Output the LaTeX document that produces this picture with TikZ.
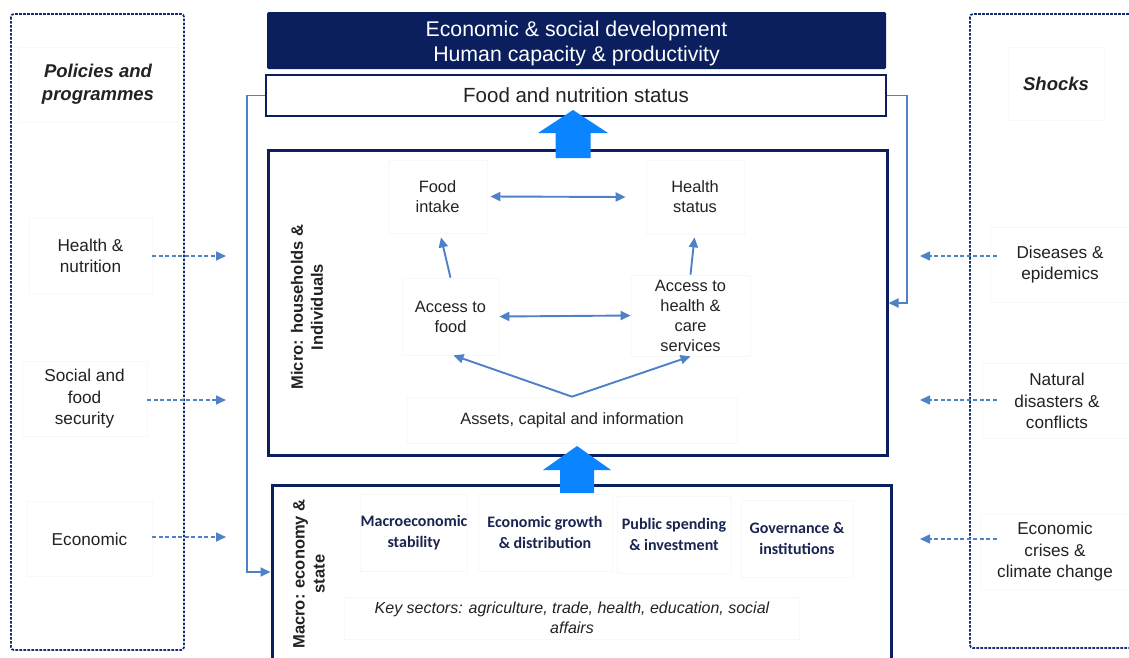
\documentclass[tikz,border=0pt]{standalone}
\usepackage{fontspec}
\setmainfont{Liberation Sans}
\newfontfamily\calib{Carlito}
\usetikzlibrary{arrows.meta,calc}
\definecolor{navy}{HTML}{0B1F5E}
\definecolor{dnavy}{HTML}{132C72}
\definecolor{lblue}{HTML}{4F81C7}
\definecolor{bblue}{HTML}{0A84FF}
\definecolor{txt}{HTML}{222222}
\definecolor{mtxt}{HTML}{1A2450}
\definecolor{faint}{HTML}{F8F8F8}
\begin{document}
\begin{tikzpicture}[x=1pt,y=-1pt,
  sidegrp/.style={draw=dnavy, line width=1.8, dash pattern=on 2.6pt off 1.4pt, rounded corners=3},
  fbox/.style={draw=faint, line width=0.7, inner sep=0, align=center, text=txt},
  side/.style={fbox, font=\fontsize{17.2}{21.5}\selectfont},
  head/.style={fbox, font=\fontsize{18.5}{23}\selectfont\bfseries\itshape},
  inner/.style={fbox, font=\fontsize{16.4}{20}\selectfont},
  macn/.style={fbox, text=mtxt, font=\fontsize{16}{21}\selectfont\calib\bfseries},
  mainbox/.style={draw=navy, line width=2.6, inner sep=0},
  rot/.style={rotate=90, align=center, text=txt, font=\fontsize{16.5}{20}\selectfont\bfseries},
  conn/.style={draw=lblue, line width=1.9, -{Triangle[length=10,width=9]}},
  biconn/.style={draw=lblue, line width=1.9, {Triangle[length=10,width=9]}-{Triangle[length=10,width=9]}},
  dconn/.style={draw=lblue, line width=1.6, dash pattern=on 4pt off 2.5pt, -{Triangle[length=10,width=9]}},
  fb/.style={draw=lblue, line width=1.9}
]
\useasboundingbox (0,0) rectangle (1129,657);
\clip (0,0) rectangle (1129,657);
\fill[white] (0,0) rectangle (1129,657);

% side groups
\draw[sidegrp] (11,14) rectangle (184,650);
\draw[sidegrp] (970,14) rectangle (1145,648);

% left labels
\node[head, minimum width=160, minimum height=75] (pol) at (98,84.5) {Policies and\\programmes};
\node[side, minimum width=123, minimum height=75] (hn) at (90.5,256) {Health \&\\nutrition};
\node[side, minimum width=125, minimum height=75] (sfs) at (84.5,399) {Social and\\food\\security};
\node[side, minimum width=125, minimum height=75] (eco) at (89.5,539) {Economic};

% right labels
\node[head, minimum width=96, minimum height=73] (shk) at (1056,83.5) {Shocks};
\node[side, minimum width=140, minimum height=75] (dis) at (1060,264.5) {Diseases \&\\epidemics};
\node[side, minimum width=150, minimum height=75] (nat) at (1057,401) {Natural\\disasters \&\\conflicts};
\node[side, minimum width=150, minimum height=75] (ecc) at (1055,552) {Economic\\crises \&\\climate change};

% central boxes
\node[fill=navy, inner sep=0, minimum width=619, minimum height=57, rounded corners=1.5] (top) at (576.5,40.5) {};
\node[text=white, align=center, inner sep=0, font=\fontsize{21.3}{25}\selectfont] (toptxt) at (576.5,43.5)
      {Economic \& social development\\Human capacity \& productivity};
\node[mainbox, fill=white, minimum width=620, minimum height=41, text=txt,
      font=\fontsize{20.5}{24}\selectfont] (fns) at (576,95.5) {Food and nutrition status};
\node[mainbox, line width=3, minimum width=619, minimum height=305] (micro) at (577.5,302.5) {};
\node[mainbox, line width=3, minimum width=619, minimum height=230] (macro) at (581.5,600) {};

% rotated labels
\node[rot] (microl) at (307,307) {Micro: households \&\\Individuals};
\node[rot] (macrol) at (309,574) {Macro: economy \&\\state};

% micro nodes
\node[inner, minimum width=99, minimum height=73] (fi) at (437.5,196.5) {Food\\intake};
\node[inner, minimum width=98, minimum height=74] (hs) at (695,197) {Health\\status};
\node[inner, minimum width=97, minimum height=77] (af) at (450.5,316.5) {Access to\\food};
\node[inner, minimum width=119, minimum height=81] (ah) at (690.5,315.5) {Access to\\health \&\\care\\services};
\node[inner, minimum width=330, minimum height=46] (as) at (572,420) {Assets, capital and information};

\draw[biconn] ([xshift=3]fi.east) -- ([xshift=-20]hs.west);
\draw[biconn] (af.east) -- (ah.west);
\draw[conn] (af.north) -- ($(fi.south)+(3.5,4)$);
\draw[conn] (ah.north) -- ($(hs.south)+(-0.5,3)$);
\draw[conn] (as.north) -- ($(af.south)+(3,0)$);
\draw[conn] (as.north) -- (ah.south);

% macro nodes
\node[macn, minimum width=104, minimum height=77] (mes) at (414,532.5) {Macroeconomic\\stability};
\node[macn, minimum width=134, minimum height=77] (egd) at (545,532.5) {Economic growth\\\& distribution};
\node[macn, minimum width=114, minimum height=77] (psi) at (674,534.5) {Public spending\\\& investment};
\node[macn, minimum width=112, minimum height=77] (gov) at (797,538.5) {Governance \&\\institutions};
\node[fbox, minimum width=455, minimum height=42, font=\fontsize{16}{20}\selectfont\itshape] (ks) at (572,618)
  {Key sectors: agriculture, trade, health, education, social\\affairs};

% big arrows
\fill[bblue] (573,110) -- (608,133) -- (590.5,133) -- (590.5,158) -- (555.5,158) -- (555.5,133) -- (538,133) -- cycle;
\fill[bblue] (577,446) -- (611,470) -- (594,470) -- (594,493) -- (560,493) -- (560,470) -- (543,470) -- cycle;

% feedback lines
\coordinate (fbL) at (247,572);
\coordinate (fbR) at (907,303);
\draw[fb,-{Triangle[length=10,width=9]}] (fns.west) -| (fbL) -- (fbL -| macro.west);
\draw[fb,-{Triangle[length=10,width=9]}] (fns.east) -| (fbR) -- (fbR -| micro.east);

% dashed influence arrows
\coordinate (hnE) at (226,256);
\coordinate (sfsE) at (226,400);
\coordinate (ecoE) at (226,537);
\coordinate (disE) at (920,256);
\coordinate (natE) at (920,400);
\coordinate (eccE) at (920,539);
\draw[dconn] (hn.east |- hnE) -- (hnE);
\draw[dconn] (sfs.east |- sfsE) -- (sfsE);
\draw[dconn] (eco.east |- ecoE) -- (ecoE);
\draw[dconn] ([xshift=7]dis.west |- disE) -- (disE);
\draw[dconn] ([xshift=15]nat.west |- natE) -- (natE);
\draw[dconn] ([xshift=17]ecc.west |- eccE) -- (eccE);
\end{tikzpicture}
\end{document}
